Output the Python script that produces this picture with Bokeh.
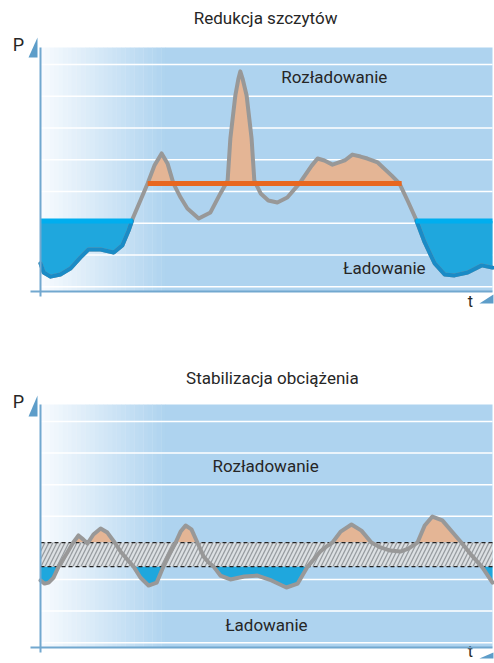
import numpy as np
from bokeh.plotting import figure
from bokeh.models import Range1d, LinearAxis, FixedTicker
from bokeh.layouts import column
from bokeh.embed import file_html
from bokeh.resources import INLINE
from bokeh.core.properties import value

# ---------------- data (t: time 0..100, P: power 0..100) ----------------
# Panel 1: peak shaving
top_t = [0, 0.7, 2.2, 4.4, 6.6, 8.8, 10.6, 13.3, 16.2, 18.1, 19.5, 20.4, 22.1, 23.7,
         25.2, 26.8, 28.1, 29.4, 31.0, 32.5, 35.0, 37.6, 39.8, 41.4, 42.0, 43.1, 43.8,
         44.2, 44.7, 45.6, 46.7, 47.3, 48.7, 50.4, 52.4, 54.6, 57.3, 60.0, 61.3, 62.8,
         64.6, 67.3, 69.0, 70.8, 72.3, 74.6, 77.7, 79.4, 81.2, 83.0, 85.0, 87.2, 89.4,
         91.6, 94.5, 97.6, 100]
top_P = [11.5, 7.8, 6.1, 7.0, 9.4, 13.9, 17.2, 17.2, 16.0, 18.9, 25.0, 29.9, 37.3, 44.3,
         51.6, 56.6, 52.5, 44.3, 38.5, 34.0, 29.9, 32.4, 40.2, 45.5, 62.7, 80.3, 87.3,
         90.2, 87.3, 80.3, 62.7, 45.5, 40.2, 37.3, 36.5, 38.5, 44.3, 51.6, 54.5, 53.7,
         52.0, 53.7, 56.1, 55.3, 54.5, 52.9, 47.5, 44.3, 37.3, 29.9, 20.1, 11.5, 7.0,
         6.6, 7.8, 10.7, 9.8]
top_discharge_level = 44.3
top_discharge_span = [23.7, 79.9]
top_charge_level = 28.9
top_charge_spans = [[0, 20.4], [83.0, 100]]

# Panel 2: load stabilisation
bot_t = [0, 0.9, 1.8, 2.9, 4.0, 5.8, 7.1, 8.4, 9.5, 10.4, 11.7, 13.3, 14.8, 16.4, 17.7,
         19.2, 20.6, 22.1, 23.9, 25.7, 27.2, 28.3, 29.9, 31.0, 32.1, 33.4, 34.7, 36.1,
         37.2, 38.3, 39.8, 42.0, 45.1, 48.0, 51.1, 54.4, 56.9, 59.1, 60.6, 61.9, 63.3,
         64.6, 66.4, 68.8, 71.0, 73.2, 75.2, 77.4, 79.6, 81.4, 83.4, 85.0, 86.7, 88.9,
         91.2, 93.1, 95.4, 97.8, 100]
bot_P = [27.6, 26.3, 26.7, 28.8, 33.3, 38.7, 42.8, 46.1, 44.4, 42.8, 46.5, 49.0, 47.3,
         43.2, 39.5, 36.2, 33.3, 28.8, 25.5, 26.7, 33.3, 37.9, 43.2, 47.7, 50.2, 48.6,
         43.2, 37.4, 35.0, 33.3, 29.6, 28.0, 29.2, 29.6, 27.6, 24.7, 26.3, 33.3, 36.6,
         39.5, 41.6, 43.2, 47.7, 50.6, 48.1, 43.2, 41.2, 39.9, 39.5, 40.7, 43.2, 50.2,
         53.9, 52.3, 47.3, 43.2, 37.9, 32.9, 26.7]
bot_band_low = 33.3
bot_band_high = 43.2

grid_P = [2, 15, 28, 41, 54, 67, 80, 93]

titles = ["Redukcja szczytów", "Stabilizacja obciążenia"]
label_discharge = "Rozładowanie"
label_charge = "Ładowanie"

# ---------------- styles ----------------
FONT = "Roboto"
TXT = "#262626"
BG = "#aed3ef"
GRAD_END = 27.7
GRAY = "#989898"
PEACH = "#e4b595"
BLUE_FILL = "#1fa7dd"
BLUE_BAND = "#00aeef"
BLUE_LINE = "#1a8bc6"
ORANGE = "#e8671f"
AXIS = "#72a8cf"
ARROW = "#5d9dc9"

W = 494
XR = (-8.85, 100.44)


def with_crossings(x, y, thr):
    xs, ys = [x[0]], [y[0]]
    for i in range(1, len(x)):
        y0, y1 = y[i - 1], y[i]
        if (y0 - thr) * (y1 - thr) < 0:
            f = (thr - y0) / (y1 - y0)
            xs.append(x[i - 1] + f * (x[i] - x[i - 1]))
            ys.append(thr)
        xs.append(x[i])
        ys.append(y[i])
    return xs, ys


def base_fig(h, yr):
    p = figure(width=W, height=h, x_range=Range1d(*XR), y_range=Range1d(*yr),
               output_backend="svg", toolbar_location=None, x_axis_type=None,
               y_axis_type=None, min_border=0, title=None)
    p.outline_line_color = None
    p.background_fill_color = "white"
    p.border_fill_color = "white"
    n = 28
    edges = np.linspace(0, GRAD_END, n + 1)
    c0 = np.array([248, 251, 254])
    c1 = np.array([174, 211, 239])
    cols = ["#%02x%02x%02x" % tuple(int(round(v)) for v in c0 + (c1 - c0) * (i + 0.5) / n)
            for i in range(n)]
    p.quad(left=edges[:-1], right=edges[1:] + 0.08, bottom=0, top=100,
           fill_color=cols, line_color=None)
    p.quad(left=GRAD_END, right=100, bottom=0, top=100, fill_color=BG, line_color=None)
    p.segment(x0=[0] * len(grid_P), x1=[100] * len(grid_P), y0=grid_P, y1=grid_P,
              line_color="white", line_width=1.5)
    return p


def add_axes(p):
    common = dict(ticker=FixedTicker(ticks=[]), axis_line_color=AXIS, axis_line_width=2,
                  major_tick_line_color=None, minor_tick_line_color=None,
                  major_tick_in=0, major_tick_out=0, major_label_standoff=0,
                  major_label_text_font_size="0px")
    yax = LinearAxis(fixed_location=0, bounds=(-2.2, 100), **common)
    xax = LinearAxis(fixed_location=0, bounds=(-2.2, 100), **common)
    p.add_layout(yax, "left")
    p.add_layout(xax, "below")


def decorations(p, title, title_xy, p_xy, t_xy, arrow_p, arrow_t, texts):
    p.text(x=[title_xy[0]], y=[title_xy[1]], text=[title], text_font=value(FONT),
           text_font_size="17px", text_align="center", text_baseline="middle", text_color=TXT)
    p.text(x=[p_xy[0]], y=[p_xy[1]], text=["P"], text_font=value(FONT),
           text_font_size="18px", text_align="center", text_baseline="middle", text_color=TXT)
    p.text(x=[t_xy[0]], y=[t_xy[1]], text=["t"], text_font=value(FONT),
           text_font_size="16px", text_align="center", text_baseline="middle",
           text_color=TXT)
    p.patch(x=arrow_p[0], y=arrow_p[1], fill_color=ARROW, line_color=None)
    p.patch(x=arrow_t[0], y=arrow_t[1], fill_color=ARROW, line_color=None)
    p.text(x=[tx for tx, ty, s in texts], y=[ty for tx, ty, s in texts],
           text=[s for tx, ty, s in texts], text_font=value(FONT), text_font_size="17px",
           text_align="center", text_baseline="middle", text_color=TXT)


# ---------------- panel 1 ----------------
p1 = base_fig(330, (-15.98, 119.26))
xc, yc = with_crossings(top_t, top_P, top_discharge_level)
xc, yc = with_crossings(xc, yc, top_charge_level)
xc = np.array(xc); yc = np.array(yc)
p1.varea(x=xc, y1=top_charge_level, y2=np.minimum(yc, top_charge_level), fill_color=BLUE_FILL)
p1.varea(x=xc, y1=top_discharge_level, y2=np.maximum(yc, top_discharge_level), fill_color=PEACH)
p1.line(xc, yc, line_color=GRAY, line_width=4, line_join="round", line_cap="round")
yb = np.where(yc <= top_charge_level + 1e-9, yc, np.nan)
p1.line(xc, yb, line_color=BLUE_LINE, line_width=4, line_join="round", line_cap="round")
p1.segment(x0=[s[0] for s in top_charge_spans], x1=[s[1] for s in top_charge_spans],
           y0=top_charge_level, y1=top_charge_level, line_color=BLUE_BAND, line_width=5)
p1.segment(x0=[top_discharge_span[0]], x1=[top_discharge_span[1]],
           y0=top_discharge_level, y1=top_discharge_level, line_color=ORANGE, line_width=5)
add_axes(p1)
decorations(p1, titles[0], (49.8, 111.9), (-4.9, 101.2), (95.1, -4.1),
            ([-2.65, -0.66, -0.66], [95.9, 95.9, 104.1]),
            ([97.1, 100.2, 100.2], [-4.9, -4.9, -1.2]),
            [(65.0, 88.1, label_discharge), (76.1, 9.8, label_charge)])

# ---------------- panel 2 ----------------
p2 = base_fig(333, (-6.58, 130.45))
xc, yc = with_crossings(bot_t, bot_P, bot_band_high)
xc, yc = with_crossings(xc, yc, bot_band_low)
xc = np.array(xc); yc = np.array(yc)
p2.varea(x=xc, y1=bot_band_low, y2=np.minimum(yc, bot_band_low), fill_color=BLUE_FILL)
p2.varea(x=xc, y1=bot_band_high, y2=np.maximum(yc, bot_band_high), fill_color=PEACH)
p2.quad(left=0, right=100, bottom=bot_band_low, top=bot_band_high, fill_color="#dce0e3",
        hatch_pattern="/", hatch_color="#979ca0", hatch_scale=8, hatch_weight=1.3,
        line_color=None)
p2.segment(x0=[0, 0], x1=[100, 100], y0=[bot_band_low, bot_band_high],
           y1=[bot_band_low, bot_band_high], line_color="#222222", line_width=1.3,
           line_dash="4 3")
p2.line(xc, yc, line_color=GRAY, line_width=4, line_join="round", line_cap="round")
add_axes(p2)
decorations(p2, titles[1], (51.3, 110.7), (-4.9, 101.2), (95.1, -1.6),
            ([-2.65, -0.66, -0.66], [95.1, 95.1, 103.7]),
            ([97.1, 100.2, 100.2], [-4.5, -4.5, -2.1]),
            [(49.8, 74.5, label_discharge), (50.0, 9.1, label_charge)])

layout = column(p1, p2, spacing=0)
open("out.html", "w").write(file_html(layout, INLINE))
